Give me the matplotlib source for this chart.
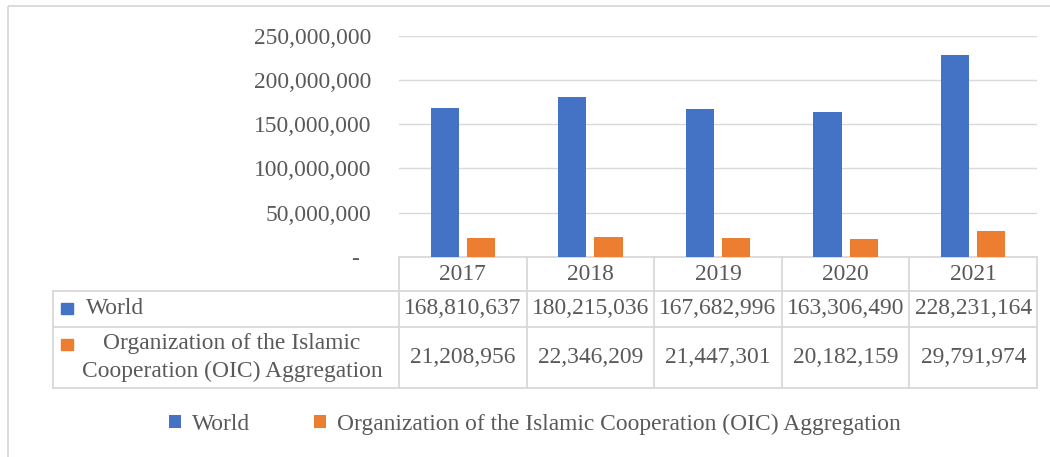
import numpy as np
import matplotlib
matplotlib.use("Agg")
import matplotlib.pyplot as plt
from matplotlib import transforms
from matplotlib.patches import Rectangle

# ---- data ----
years = ["2017", "2018", "2019", "2020", "2021"]
world = [168810637, 180215036, 167682996, 163306490, 228231164]
oic = [21208956, 22346209, 21447301, 20182159, 29791974]
series_names = ["World", "Organization of the Islamic Cooperation (OIC) Aggregation"]
table_labels = ["World", "Organization of the Islamic\nCooperation (OIC) Aggregation"]
y_ticks = [0, 50000000, 100000000, 150000000, 200000000, 250000000]

BLUE = "#4472C4"
ORANGE = "#ED7D31"
TXT = "#595959"
GRID = "#D9D9D9"
FS = 16.9

plt.rcParams["font.family"] = ["Liberation Serif", "DejaVu Serif"]

W, H = 1050, 457
fig = plt.figure(figsize=(W / 100, H / 100), dpi=100)

# overlay axes in pixel coordinates (for chart frame and data table)
ov = fig.add_axes([0, 0, 1, 1], zorder=0)
ov.set_xlim(0, W)
ov.set_ylim(H, 0)
ov.axis("off")

# plot area
px0, px1, py0, py1 = 399, 1037, 257, 35.7
ax = fig.add_axes([px0 / W, 1 - py0 / H, (px1 - px0) / W, (py0 - py1) / H], zorder=1)
ax.patch.set_alpha(0)

x = np.arange(len(years))
bw = 0.222
off = 0.142
ax.bar(x - off, world, bw, color=BLUE, label=series_names[0], zorder=2)
ax.bar(x + off, oic, bw, color=ORANGE, label=series_names[1], zorder=2)

ax.set_xlim(-0.5, len(years) - 0.5)
ax.set_ylim(0, 250000000)
ax.set_yticks(y_ticks)
ax.set_yticklabels(["-  " if v == 0 else f"{v:,}" for v in y_ticks],
                   fontsize=FS, color=TXT)
ax.tick_params(axis="y", length=0, pad=20)
ax.set_xticks([])
ax.yaxis.grid(True, color=GRID, linewidth=1.0, zorder=0)
ax.set_axisbelow(True)
for s in ax.spines.values():
    s.set_visible(False)

# chart outer frame
ov.add_patch(Rectangle((8, 6), 1060, 470, fill=False, edgecolor=GRID, linewidth=1.3))

# ---- data table ----
mix = transforms.blended_transform_factory(ax.transData, ov.transData)
row_top, row_hdr, row_w, row_o = 257, 291, 327, 388
tab_left = 53
lkw = dict(color=GRID, linewidth=1.3)
col_edges = np.arange(len(years) + 1) - 0.5
for e in col_edges:
    ov.plot([e, e], [row_top, row_o], transform=mix, **lkw)
ov.plot([-0.5, len(years) - 0.5], [row_top, row_top], transform=mix, **lkw)
for yy in (row_hdr, row_w, row_o):
    ov.plot([tab_left, px1], [yy, yy], **lkw)
ov.plot([tab_left, tab_left], [row_hdr, row_o], **lkw)

for i, yr in enumerate(years):
    ov.text(i, (row_top + row_hdr) / 2, yr, transform=mix, ha="center", va="center",
            fontsize=FS, color=TXT)
    ov.text(i, (row_hdr + row_w) / 2, f"{world[i]:,}", transform=mix, ha="center",
            va="center", fontsize=FS, color=TXT)
    ov.text(i, (row_w + row_o) / 2, f"{oic[i]:,}", transform=mix, ha="center",
            va="center", fontsize=FS, color=TXT)

# row headers with colour keys
ov.add_patch(Rectangle((61, 302.5), 11.5, 11.5, color=BLUE))
ov.text(86, (row_hdr + row_w) / 2, table_labels[0], ha="left", va="center",
        fontsize=FS, color=TXT)
ov.add_patch(Rectangle((61, 338.5), 11.5, 11.5, color=ORANGE))
ov.text(232, (row_w + row_o) / 2, table_labels[1], ha="center", va="center",
        fontsize=FS, color=TXT, linespacing=1.45)

# ---- legend ----
leg = fig.legend(loc="center", bbox_to_anchor=(535 / W, 1 - 424 / H), ncol=2,
                 frameon=False, fontsize=FS, labelcolor=TXT,
                 handlelength=0.5, handleheight=0.5, handletextpad=0.5,
                 columnspacing=2.7)

fig.savefig("out.png", dpi=100)
